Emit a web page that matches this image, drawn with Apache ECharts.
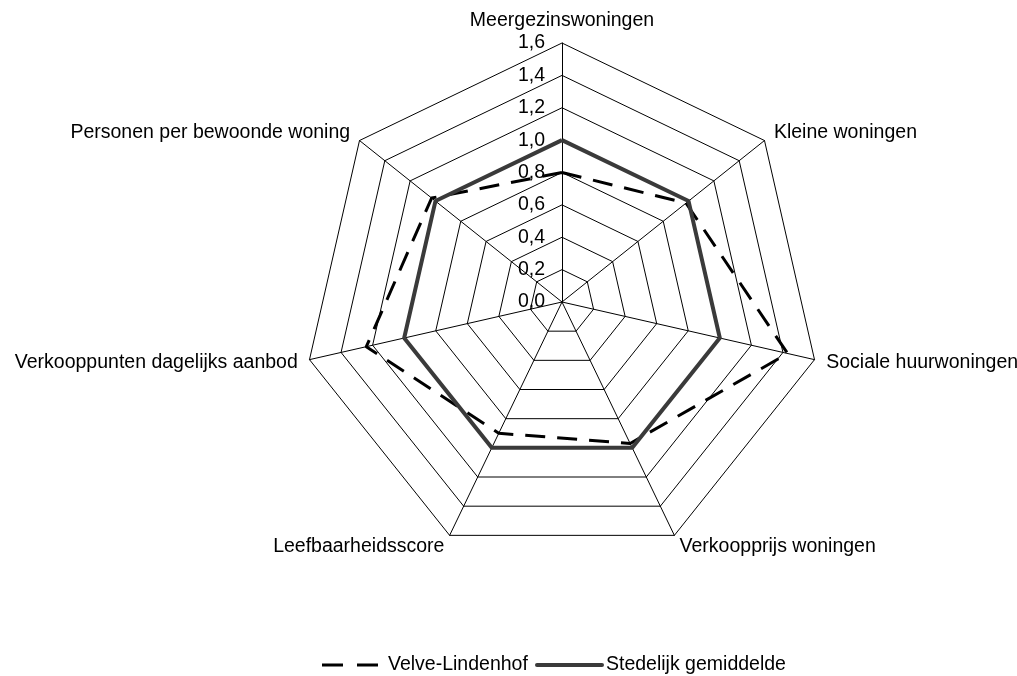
<!DOCTYPE html>
<html>
<head>
<meta charset="utf-8">
<script src="https://cdn.jsdelivr.net/npm/echarts@6/dist/echarts.min.js"></script>
<style>
  html, body { margin: 0; padding: 0; background: #fff; }
  #chart { width: 1017px; height: 676px; }
</style>
</head>
<body>
<div id="chart"></div>
<script>
// Indicators in clockwise order, starting at the top
const categories = [
  'Meergezinswoningen',
  'Kleine woningen',
  'Sociale huurwoningen',
  'Verkoopprijs woningen',
  'Leefbaarheidsscore',
  'Verkooppunten dagelijks aanbod',
  'Personen per bewoonde woning'
];
const velveLindenhof = [0.8, 0.98, 1.43, 0.97, 0.9, 1.24, 1.03];
const stedelijkGemiddelde = [1.0, 1.0, 1.0, 1.0, 1.0, 1.0, 1.0];
const axisMax = 1.6;
const axisStep = 0.2;

const FONT = '"Liberation Sans", Arial, sans-serif';
const FS = 19.5;

// ECharts places radar indicators counter-clockwise; reorder so they run clockwise
const order = [0].concat(categories.map((_, i) => i).slice(1).reverse());
const reorder = arr => order.map(i => arr[i]);

const center = [562, 302];
const radius = 259;

const chart = echarts.init(document.getElementById('chart'), null, { renderer: 'canvas' });

chart.setOption({
  backgroundColor: '#ffffff',
  animation: false,
  textStyle: { fontFamily: FONT },
  radar: {
    center: center,
    radius: radius,
    startAngle: 90,
    shape: 'polygon',
    splitNumber: Math.round(axisMax / axisStep),
    indicator: reorder(categories).map(n => ({ name: n, min: 0, max: axisMax })),
    axisName: { color: '#000', fontSize: FS, fontFamily: FONT },
    nameGap: 12,
    axisLine: { lineStyle: { color: '#000', width: 1 } },
    splitLine: { lineStyle: { color: '#000', width: 1 } },
    splitArea: { show: false },
    axisTick: { show: false },
    axisLabel: { show: false }
  },
  // Polar system sharing the radar's centre, used only for the value labels on the top axis
  polar: { center: center, radius: radius },
  angleAxis: { show: false, startAngle: 90, min: 0, max: 360 },
  radiusAxis: {
    min: 0,
    max: axisMax,
    interval: axisStep,
    axisLine: { show: false },
    axisTick: { show: false },
    splitLine: { show: false },
    axisLabel: {
      color: '#000',
      fontSize: FS,
      fontFamily: FONT,
      margin: 17,
      formatter: v => v.toFixed(1).replace('.', ',')
    },
    z: 1
  },
  legend: [
    {
      data: [{
        name: 'Velve-Lindenhof',
        icon: 'path://M0,0H21V3H0ZM35,0H56V3H35Z'
      }],
      left: 317,
      top: 650,
      itemWidth: 56,
      itemHeight: 3,
      itemStyle: { color: '#000' },
      textStyle: { color: '#000', fontSize: FS, fontFamily: FONT, padding: [0, 0, 0, 5] }
    },
    {
      data: [{
        name: 'Stedelijk gemiddelde',
        icon: 'path://M2,0H67A2,2 0 0 1 67,4H2A2,2 0 0 1 2,0Z'
      }],
      left: 530,
      top: 650,
      itemWidth: 69,
      itemHeight: 4,
      itemStyle: { color: '#3a3a3a' },
      textStyle: { color: '#000', fontSize: FS, fontFamily: FONT, padding: [0, 0, 0, -3] }
    }
  ],
  series: [
    {
      type: 'radar',
      z: 3,
      symbol: 'none',
      data: [
        {
          name: 'Velve-Lindenhof',
          value: reorder(velveLindenhof),
          lineStyle: { color: '#000', width: 3, type: [20, 12] },
          itemStyle: { color: '#000' }
        },
        {
          name: 'Stedelijk gemiddelde',
          value: reorder(stedelijkGemiddelde),
          lineStyle: { color: '#3a3a3a', width: 4, type: 'solid' },
          itemStyle: { color: '#3a3a3a' }
        }
      ]
    }
  ]
});
</script>
</body>
</html>
